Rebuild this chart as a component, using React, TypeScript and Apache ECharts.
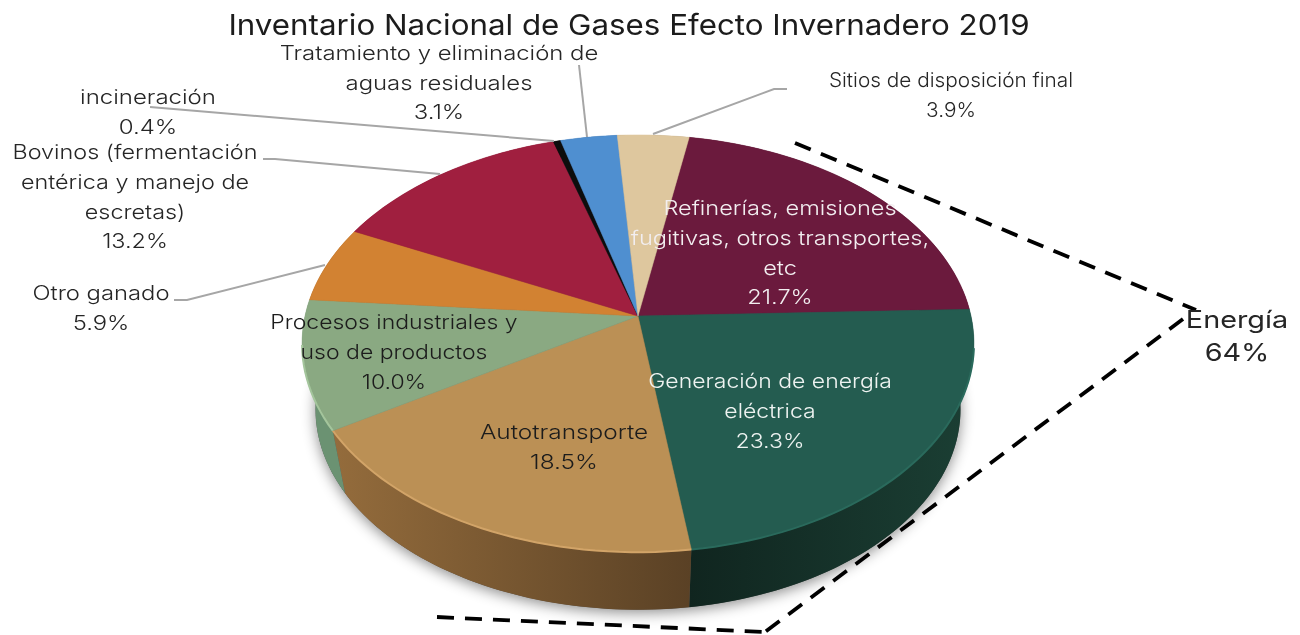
import React, { useEffect, useRef } from "react";
import * as echarts from "echarts";

const titleText = "Inventario Nacional de Gases Efecto Invernadero 2019";
const categories = [
  "Refinerías, emisiones\nfugitivas, otros transportes,\netc",
  "Generación de energía\neléctrica",
  "Autotransporte",
  "Procesos industriales y\nuso de productos",
  "Otro ganado",
  "Bovinos (fermentación\nentérica y manejo de\nescretas)",
  "incineración",
  "Tratamiento y eliminación de\naguas residuales",
  "Sitios de disposición final",
];
const shares = [21.7, 23.3, 18.5, 10.0, 5.9, 13.2, 0.4, 3.1, 3.9];
const bracketLabel = "Energía\n64%";

const topColors = ["#6b1a3d", "#245c50", "#bb9055", "#8aa982", "#d28232", "#a01f3f", "#0d0d0d", "#4f8fd0", "#dec79e"];
const wallLeft = ["#4a122a", "#10251f", "#946c3c", "#6b9272", "#8a5520", "#6d142a", "#000000", "#305a88", "#9c8a6c"];
const wallRight = ["#4a122a", "#1b3f34", "#5a4125", "#6b9272", "#8a5520", "#6d142a", "#000000", "#305a88", "#9c8a6c"];
const rimColors = ["#6b1a3d", "#2a6a5c", "#d2a468", "#a4c59c", "#d28232", "#a01f3f", "#0d0d0d", "#4f8fd0", "#dec79e"];
const labelColors = ["#f2eef0", "#eef3f1", "#1c1c1c", "#1c1c1c", "#262626", "#262626", "#262626", "#262626", "#262626"];
const labelAnchors: number[][] = [
  [780, 193],
  [770, 366],
  [564, 417],
  [394, 307],
  [101, 278],
  [135, 137],
  [148, 82],
  [439, 38],
  [951, 65],
];
const labelStretch = [1.18, 1.15, 1.22, 1.15, 1.19, 1.17, 1.2, 1.195, 1.04];
const leaders: number[][][] = [
  [[150, 107], [554, 141]],
  [[579, 65], [587, 137]],
  [[263, 159], [275, 159], [440, 174]],
  [[174, 300], [187, 300], [325, 265]],
  [[653, 134], [774, 89], [787, 89]],
];
const bracket: number[][][] = [
  [[795, 143], [1196, 310]],
  [[1183, 319], [765, 632]],
  [[437, 617], [765, 632]],
];

const FONT = "Inter";
const CX = 638, CY = 316, A = 333, B = 205, K = 0.132;
const START_DEG = 10, WALL_DY = 67, WALL_SCALE = 0.96;

function rimPoint(pct: number, scale: number, dy: number) {
  const t = ((START_DEG + pct * 3.6) * Math.PI) / 180;
  const u = Math.sin(t), v = Math.cos(t);
  const s = (1 / (1 + K * v)) * scale;
  return [CX + A * u * s, CY + dy - B * v * s];
}
function arc(from: number, to: number, scale: number, dy: number) {
  const n = Math.max(2, Math.ceil((to - from) * 2));
  const pts: number[][] = [];
  for (let i = 0; i <= n; i++) pts.push(rimPoint(from + ((to - from) * i) / n, scale, dy));
  return pts;
}

const cumulative = shares.map((_, i) => shares.slice(0, i).reduce((a, b) => a + b, 0));
const sliceData = shares.map((v, i) => ({ value: [cumulative[i], cumulative[i] + v, i] }));
const total = shares.reduce((a, b) => a + b, 0);

export default function App() {
  const ref = useRef<HTMLDivElement>(null);
  useEffect(() => {
    const chart = echarts.init(ref.current!, undefined, { renderer: "svg" });
    const graphics: any[] = [];
    leaders.forEach((pts) =>
      graphics.push({ type: "polyline", z: 50, shape: { points: pts }, style: { stroke: "#a6a6a6", lineWidth: 2, fill: "none" } })
    );
    bracket.forEach((pts) =>
      graphics.push({ type: "polyline", z: 50, shape: { points: pts }, style: { stroke: "#000", lineWidth: 3.8, lineDash: [17, 11], fill: "none" } })
    );
    categories.forEach((c, i) =>
      graphics.push({
        type: "text", z: 60, x: labelAnchors[i][0], y: labelAnchors[i][1], scaleX: labelStretch[i],
        style: {
          text: `${c}\n${shares[i].toFixed(1)}%`, fill: labelColors[i],
          fontFamily: FONT, fontSize: 20, fontWeight: 300, lineHeight: 29.7, align: "center", verticalAlign: "top",
        },
      })
    );
    graphics.push({
      type: "text", z: 60, x: 1237, y: 302, scaleX: 1.2,
      style: { text: bracketLabel, fill: "#262626", fontFamily: FONT, fontSize: 24, fontWeight: 400, lineHeight: 33, align: "center", verticalAlign: "top" },
    });
    graphics.push({
      type: "text", z: 60, x: 629, y: 10, scaleX: 1.08,
      style: { text: titleText, fill: "#1c1c1c", fontFamily: FONT, fontSize: 29, fontWeight: 400, align: "center", verticalAlign: "top" },
    });

    chart.setOption({
      animation: false,
      graphic: { elements: graphics },
      series: [
        {
          type: "custom", coordinateSystem: "none", z: 1, silent: true,
          data: [{ value: [0, total] }],
          renderItem: (_: any, api: any) => ({
            type: "polygon",
            shape: { points: arc(api.value(0), api.value(1), WALL_SCALE, WALL_DY) },
            style: { fill: "#555", shadowBlur: 14, shadowColor: "rgba(0,0,0,0.45)", shadowOffsetY: 3 },
          }),
        },
        {
          type: "custom", coordinateSystem: "none", z: 2, silent: true,
          data: sliceData,
          renderItem: (_: any, api: any) => {
            const a = api.value(0), b = api.value(1), i = api.value(2);
            return {
              type: "polygon",
              shape: { points: [...arc(a, b, 1, 0), ...arc(a, b, WALL_SCALE, WALL_DY).reverse()] },
              style: {
                fill: {
                  type: "linear", x: 0, y: 0, x2: 1, y2: 0,
                  colorStops: [{ offset: 0, color: wallLeft[i] }, { offset: 1, color: wallRight[i] }],
                },
              },
            };
          },
        },
        {
          type: "custom", coordinateSystem: "none", z: 3, silent: true,
          data: sliceData,
          renderItem: (_: any, api: any) => {
            const a = api.value(0), b = api.value(1), i = api.value(2);
            const rim = arc(a, b, 1, 0);
            const front = rim.filter((p) => p[1] > 345);
            return {
              type: "group",
              children: [
                { type: "polygon", shape: { points: [[CX, CY], ...rim] }, style: { fill: topColors[i], stroke: topColors[i], lineWidth: 0.5 } },
                { type: "polyline", shape: { points: front }, style: { stroke: rimColors[i], lineWidth: 2, fill: "none" } },
              ],
            };
          },
        },
      ],
    });
    return () => chart.dispose();
  }, []);
  return <div ref={ref} style={{ position: "fixed", left: 0, top: 0, width: 1300, height: 635 }} />;
}
